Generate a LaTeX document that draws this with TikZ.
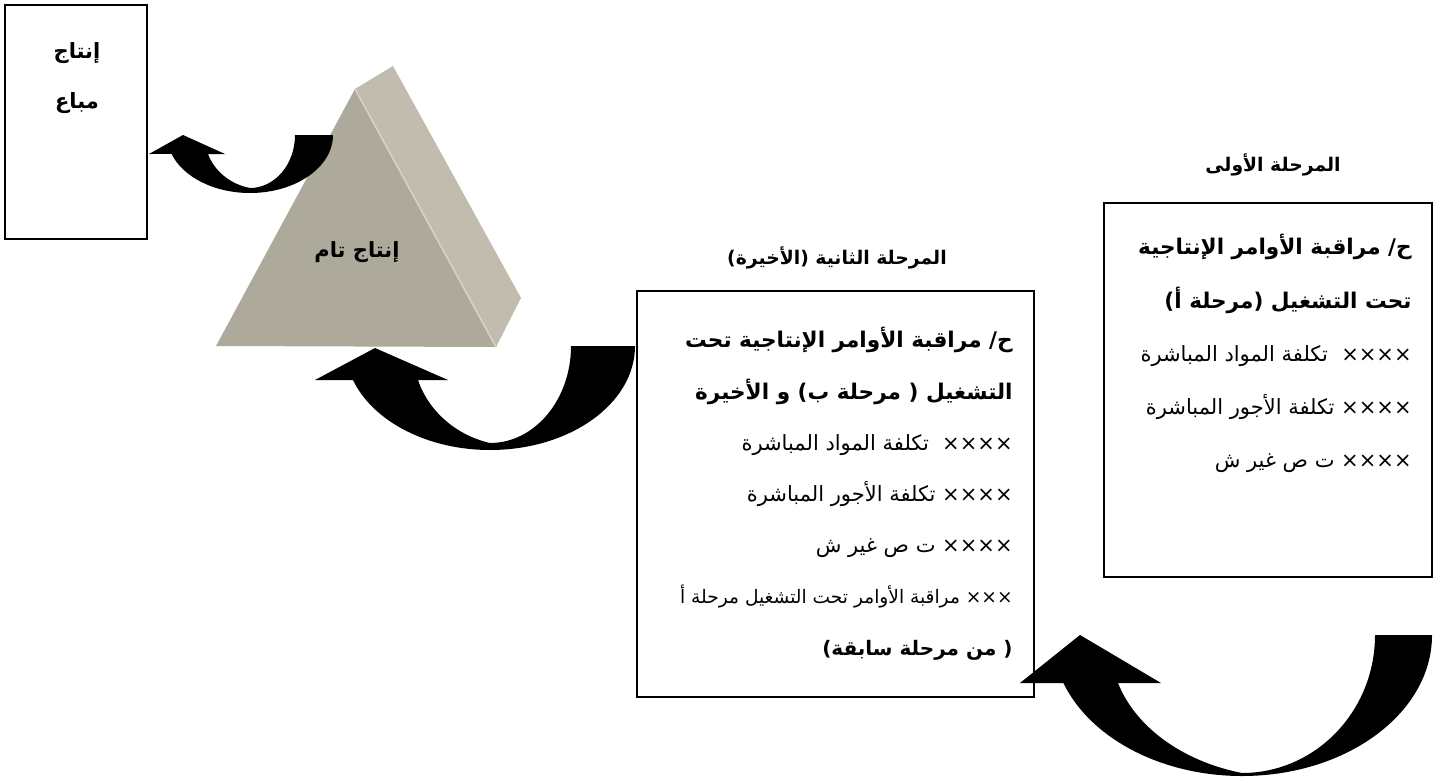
\documentclass[tikz,border=0pt]{standalone}
\usepackage{fontspec}
\newfontfamily\arabicfont[Script=Arabic]{DejaVu Sans}
\TeXXeTstate=1

\definecolor{pyrfront}{HTML}{ADA99B}
\definecolor{pyrside}{HTML}{C1BCAD}
\definecolor{pyredge}{HTML}{D6D2C6}

\tikzset{
  stagebox/.style={draw, line width=1.2pt, inner sep=0pt},
  boxtext/.style={align=right, anchor=north east, inner sep=0pt},
  headtext/.style={font=\arabicfont\bfseries\fontsize{10.5}{25}\selectfont},
  stagehead/.style={font=\arabicfont\bfseries\fontsize{9.4}{12}\selectfont},
  blockarrow/.style={fill=black},
}

\begin{document}
\begin{tikzpicture}[x=0.5pt,y=-0.5pt]
\path[fill=white,use as bounding box] (0,0) rectangle (1439,776);

% pyramid
\fill[pyrside] (355,89) -- (393,66) -- (521,298) -- (496,347) -- cycle;
\fill[pyrfront] (355,89) -- (216,346) -- (496,347) -- cycle;
\draw[pyredge,line width=0.8pt] (355,89) -- (496,347);
\node[headtext] (done) at (357,252) {\beginR إنتاج تام\endR};

% boxes
\node[stagebox, minimum width=71pt, minimum height=117pt] (sold) at (76,122) {};
\node[stagebox, minimum width=198.5pt, minimum height=203pt] (stage2) at (835.5,494) {};
\node[stagebox, minimum width=164pt, minimum height=187pt] (stage1) at (1268,390) {};

\node[headtext, align=center] (soldtext) at (77,78) {\beginR إنتاج\endR\\ \beginR مباع\endR};
\node[stagehead] (stage1head) at (1273,165) {\beginR المرحلة الأولى\endR};
\node[stagehead] (stage2head) at (837,258) {\beginR المرحلة الثانية (الأخيرة)\endR};

\node[boxtext, font=\arabicfont\fontsize{10.5}{25.6}\selectfont] (stage2text) at (1013,327) {%
{\bfseries\fontsize{10.8}{25.6}\selectfont\beginR ح/ مراقبة الأوامر الإنتاجية تحت\endR}\\
{\bfseries\fontsize{10.8}{25.6}\selectfont\beginR التشغيل ( مرحلة ب) و الأخيرة\endR}\\
\beginR ××××\ \ تكلفة المواد المباشرة\endR\\
\beginR ×××× تكلفة الأجور المباشرة\endR\\
\beginR ×××× ت ص غير ش\endR\\
{\fontsize{9.3}{25.6}\selectfont\beginR ××× مراقبة الأوامر تحت التشغيل مرحلة أ\endR}\\
{\bfseries\fontsize{10}{25.6}\selectfont\beginR ( من مرحلة سابقة)\endR}};

\node[boxtext, font=\arabicfont\fontsize{10.5}{26.6}\selectfont] (stage1text) at (1412,234) {%
{\bfseries\fontsize{10.8}{26.6}\selectfont\beginR ح/ مراقبة الأوامر الإنتاجية\endR}\\
{\bfseries\fontsize{10.8}{26.6}\selectfont\beginR تحت التشغيل (مرحلة أ)\endR}\\
\beginR ××××\ \ تكلفة المواد المباشرة\endR\\
\beginR ×××× تكلفة الأجور المباشرة\endR\\
\beginR ×××× ت ص غير ش\endR};

% curved arrows
\path[blockarrow] (333,135) arc[start angle=0,end angle=160.9,x radius=83,y radius=58]
  -- (149,154) -- (183,135) -- (225,154) -- (208,154)
  .. controls (214,170) and (229,184) .. (250,188)
  arc[start angle=90,end angle=0,x radius=45,y radius=53] -- cycle;
\path[blockarrow] (635,346) arc[start angle=0,end angle=160.9,x radius=145,y radius=104]
  -- (315,380) -- (375,348) -- (448,380) -- (418,380)
  .. controls (428,410) and (455,435) .. (490,443)
  arc[start angle=90,end angle=0,x radius=81,y radius=97] -- cycle;
\path[blockarrow] (1432,635) arc[start angle=0,end angle=160.1,x radius=190,y radius=141]
  -- (1020,683) -- (1080,635) -- (1161,683) -- (1118,683)
  .. controls (1135,726) and (1181,761) .. (1242,773)
  arc[start angle=90,end angle=0,x radius=133,y radius=138] -- cycle;
\end{tikzpicture}
\end{document}
